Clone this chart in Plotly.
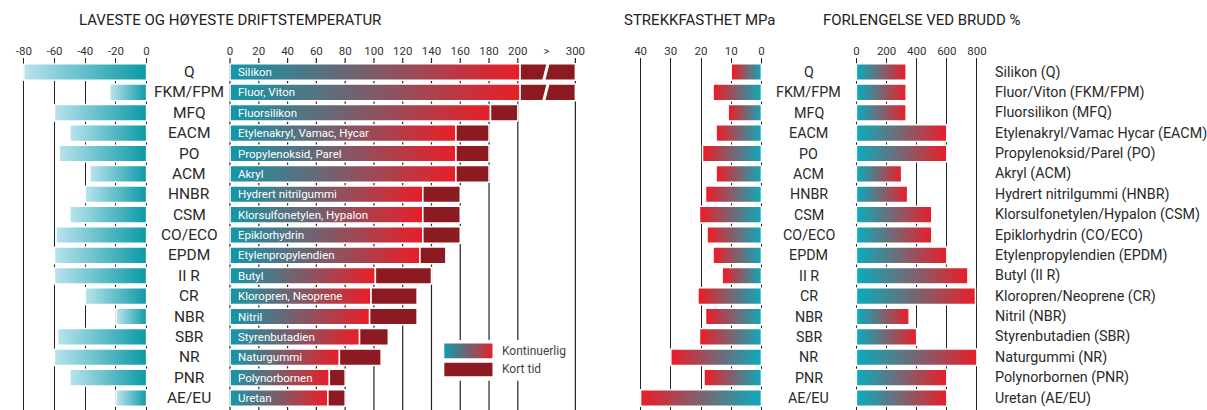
import plotly.graph_objects as go

# ---------------- data ----------------
codes = ["Q", "FKM/FPM", "MFQ", "EACM", "PO", "ACM", "HNBR", "CSM", "CO/ECO", "EPDM",
         "II R", "CR", "NBR", "SBR", "NR", "PNR", "AE/EU"]
bar_names = ["Silikon", "Fluor, Viton", "Fluorsilikon", "Etylenakryl, Vamac, Hycar",
             "Propylenoksid, Parel", "Akryl", "Hydrert nitrilgummi", "Klorsulfonetylen, Hypalon",
             "Epiklorhydrin", "Etylenpropylendien", "Butyl", "Kloropren, Neoprene", "Nitril",
             "Styrenbutadien", "Naturgummi", "Polynorbornen", "Uretan"]
full_names = ["Silikon (Q)", "Fluor/Viton (FKM/FPM)", "Fluorsilikon (MFQ)",
              "Etylenakryl/Vamac Hycar (EACM)", "Propylenoksid/Parel (PO)", "Akryl (ACM)",
              "Hydrert nitrilgummi (HNBR)", "Klorsulfonetylen/Hypalon (CSM)",
              "Epiklorhydrin (CO/ECO)", "Etylenpropylendien (EPDM)", "Butyl (II R)",
              "Kloropren/Neoprene (CR)", "Nitril (NBR)", "Styrenbutadien (SBR)",
              "Naturgummi (NR)", "Polynorbornen (PNR)", "Uretan (AE/EU)"]
temp_min = [-80, -24, -60, -50, -57, -37, -40, -50, -59, -60, -60, -40, -20, -58, -60, -50, -20]
temp_cont = [204, 204, 181, 157, 157, 157, 134, 134, 134, 132, 101, 98, 97, 90, 76, 69, 68]
temp_short = [300, 300, 200, 180, 180, 180, 160, 160, 160, 150, 140, 130, 130, 110, 105, 80, 80]
tensile = [10, 16, 11, 15, 19.5, 15, 18.5, 20.5, 18, 16, 13, 21, 18.5, 20.5, 30, 19, 40]
elong = [330, 330, 330, 600, 600, 300, 340, 500, 500, 600, 740, 790, 350, 400, 800, 600, 600]

t1_vals = [-80, -60, -40, -20, 0]
t2_vals = [0, 20, 40, 60, 80, 100, 120, 140, 160, 180, 200, 220, 240]
t2_text = ["0", "20", "40", "60", "80", "100", "120", "140", "160", "180", "200", ">", "300"]
t2_grid = [0, 20, 40, 60, 80, 100, 120, 140, 160, 180, 200, 240]
t3_vals = [40, 30, 20, 10, 0]
t4_vals = [0, 200, 400, 600, 800]

# ---------------- style ----------------
W, H = 1207, 410
TOP = 58
FONT = "Roboto"
GRID = "#222222"
GW = 1.2
LIGHT = "#b8e3ec"
TEAL1 = "#0898a5"
TEAL2 = "#1597a8"
RED = "#ec1c26"
DARKRED = "#8b1a21"
TEAL3 = "#08adbd"
HH = 0.41


def brk(v):
    # broken axis: values above 200 compressed (300 -> 240)
    return v if v <= 200 else 200 + (v - 200) * 0.4


def px(p):
    return p / W


def rect(x0, x1, yc, h=HH):
    return [x0, x1, x1, x0, x0], [yc - h, yc - h, yc + h, yc + h, yc - h]


fig = go.Figure()
rows = list(range(len(codes)))


def grad_bar(x0, x1, yc, c0, c1, axis, h=HH):
    xs, ys = rect(x0, x1, yc, h)
    fig.add_trace(go.Scatter(
        x=xs, y=ys, mode="lines", fill="toself",
        line=dict(color="white", width=1.5),
        fillgradient=dict(type="horizontal", colorscale=[[0, c0], [1, c1]],
                          start=x0, stop=x1),
        xaxis=axis, yaxis="y", hoverinfo="skip", showlegend=False))


def solid_bar(x0, x1, yc, color, axis, h=HH):
    xs, ys = rect(x0, x1, yc, h)
    fig.add_trace(go.Scatter(
        x=xs, y=ys, mode="lines", fill="toself", fillcolor=color,
        line=dict(color="white", width=1.5),
        xaxis=axis, yaxis="y", hoverinfo="skip", showlegend=False))


# panel 1: lowest temperature
for i, v in zip(rows, temp_min):
    grad_bar(v, 0, i, LIGHT, TEAL1, "x")

# panel 2: highest temperature
for i, c, s in zip(rows, temp_cont, temp_short):
    grad_bar(0, brk(c), i, TEAL2, RED, "x2")
    solid_bar(brk(c), brk(s), i, DARKRED, "x2")
    if s > 200:
        fig.add_trace(go.Scatter(x=[217.8, 221.2], y=[i + 0.47, i - 0.47], mode="lines",
                                 line=dict(color="white", width=3), xaxis="x2", yaxis="y",
                                 hoverinfo="skip", showlegend=False))

# panel 3: tensile strength
for i, v in zip(rows, tensile):
    grad_bar(0, v, i, TEAL3, RED, "x3")

# panel 4: elongation
for i, v in zip(rows, elong):
    grad_bar(0, v, i, TEAL3, RED, "x4")

# legend (panel 2)
grad_bar(148.4, 182.9, 13.69, TEAL2, RED, "x2", h=0.40)
solid_bar(148.4, 182.9, 14.60, DARKRED, "x2", h=0.37)

shapes = []
for g in t2_grid:
    shapes.append(dict(type="line", xref="x2", yref="paper", x0=g, x1=g, y0=0, y1=1,
                       line=dict(color=GRID, width=GW), layer="below"))
shapes.append(dict(type="rect", xref="x2", yref="y", x0=146, x1=234, y0=13.15, y1=15.15,
                   fillcolor="white", line=dict(width=0), layer="between"))

ann = []
for i in rows:
    ann.append(dict(text=codes[i], x=px(186), xref="paper", y=i, yref="y",
                    xanchor="center", yanchor="middle", showarrow=False,
                    font=dict(family=FONT, size=15.5, color="#2a2a2a")))
    ann.append(dict(text=bar_names[i], x=4, xref="x2", y=i, yref="y",
                    xanchor="left", yanchor="middle", showarrow=False,
                    font=dict(family=FONT, size=11.5, color="white")))
    ann.append(dict(text=codes[i], x=px(812), xref="paper", y=i, yref="y",
                    xanchor="center", yanchor="middle", showarrow=False,
                    font=dict(family=FONT, size=14.3, color="#2a2a2a")))
    ann.append(dict(text=full_names[i], x=px(998), xref="paper", y=i, yref="y",
                    xanchor="left", yanchor="middle", showarrow=False,
                    font=dict(family=FONT, size=14.3, color="#2a2a2a")))

for txt, y in [("Kontinuerlig", 13.69), ("Kort tid", 14.60)]:
    ann.append(dict(text=txt, x=187.5, xref="x2", y=y, yref="y", xanchor="left",
                    yanchor="middle", showarrow=False,
                    font=dict(family=FONT, size=12, color="#444")))

ty = (H - 20) / (H - TOP)
for txt, x0 in [("LAVESTE OG HØYESTE DRIFTSTEMPERATUR", 73), ("STREKKFASTHET MPa", 623),
                ("FORLENGELSE VED BRUDD %", 824)]:
    ann.append(dict(text=txt, x=px(x0), xref="paper", y=ty, yref="paper", xanchor="left",
                    yanchor="middle", showarrow=False,
                    font=dict(family=FONT, size=15, color="#222")))

y_top = (TOP - 72) / 20.375
y_bot = (H - 72) / 20.375

axbase = dict(side="top", anchor="y", ticks="", zeroline=False, showline=False,
              tickfont=dict(family=FONT, size=11.5, color="#333"), gridcolor=GRID,
              gridwidth=GW, fixedrange=True)

fig.update_layout(
    width=W, height=H, margin=dict(l=0, r=0, t=TOP, b=0),
    paper_bgcolor="white", plot_bgcolor="white",
    xaxis=dict(axbase, domain=[px(15.9), px(146.1)], range=[-82, 2],
               tickvals=t1_vals, ticktext=[str(v) for v in t1_vals], showgrid=True),
    xaxis2=dict(axbase, domain=[px(224.4), px(579.0)], range=[-2, 242],
                tickvals=t2_vals, ticktext=t2_text, showgrid=False),
    xaxis3=dict(axbase, domain=[px(635.9), px(770.1)], range=[42, -2],
                tickvals=t3_vals, ticktext=[str(v) for v in t3_vals], showgrid=True),
    xaxis4=dict(axbase, domain=[px(857.7), px(984.0)], range=[-15, 815],
                tickvals=t4_vals, ticktext=[str(v) for v in t4_vals], showgrid=True),
    yaxis=dict(domain=[0, 1], range=[y_bot, y_top], visible=False, fixedrange=True),
    shapes=shapes, annotations=ann, showlegend=False,
)

fig.write_html("out.html")
